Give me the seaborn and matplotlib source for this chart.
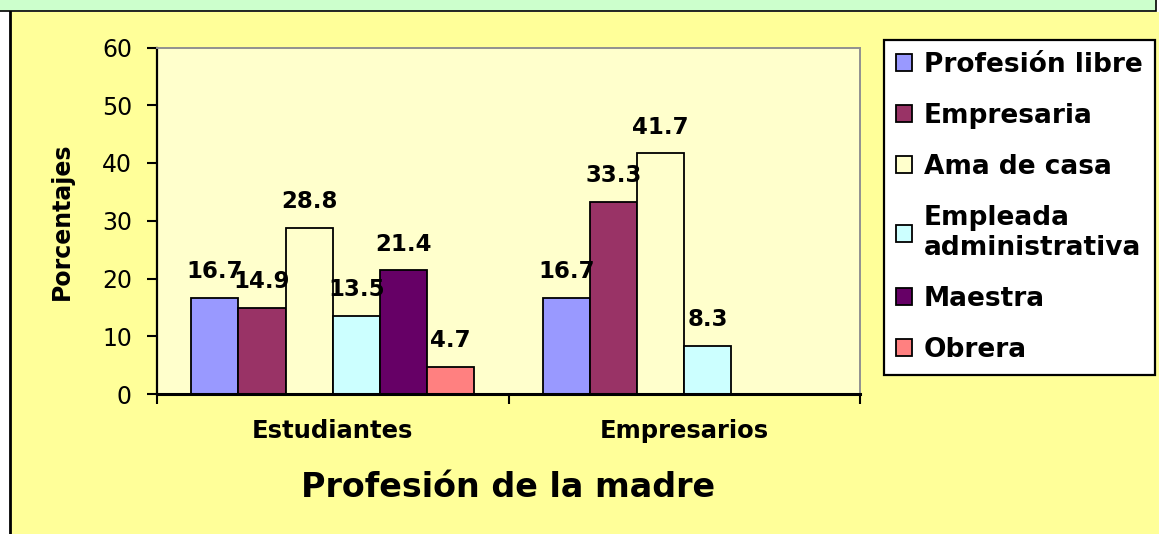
import numpy as np
import pandas as pd
import matplotlib
matplotlib.use("Agg")
import matplotlib.pyplot as plt
from matplotlib.patches import Rectangle, Patch
from matplotlib.lines import Line2D
import seaborn as sns

# ---- data ----
grupos = ["Estudiantes", "Empresarios"]
profesiones = ["Profesión libre", "Empresaria", "Ama de casa",
               "Empleada administrativa", "Maestra", "Obrera"]
legend_labels = ["Profesión libre", "Empresaria", "Ama de casa",
                 "Empleada\nadministrativa", "Maestra", "Obrera"]
estudiantes = [16.7, 14.9, 28.8, 13.5, 21.4, 4.7]
empresarios = [16.7, 33.3, 41.7, 8.3, np.nan, np.nan]
colores = ["#9999FF", "#993366", "#FFFFCC", "#CCFFFF", "#660066", "#FF8080"]
y_ticks = [0, 10, 20, 30, 40, 50, 60]

rows = []
for g, vals in zip(grupos, [estudiantes, empresarios]):
    for p, v in zip(profesiones, vals):
        if not np.isnan(v):
            rows.append({"grupo": g, "profesion": p, "pct": v})
df = pd.DataFrame(rows)

sns.set_style("ticks")
plt.rcParams["font.family"] = ["DejaVu Sans"]
plt.rcParams["text.color"] = "black"
plt.rcParams["axes.labelcolor"] = "black"
plt.rcParams["xtick.color"] = "black"
plt.rcParams["ytick.color"] = "black"

W, H = 1159, 534
fig = plt.figure(figsize=(W / 100, H / 100), dpi=100)
fig.patch.set_facecolor("white")

# outer yellow frame
fig.add_artist(Rectangle((10 / W, 0), 1, 1 - 12 / H, transform=fig.transFigure,
                         facecolor="#FFFF99", edgecolor="none", zorder=-10))
fig.add_artist(Line2D([9.5 / W, 9.5 / W], [0, 1 - 11 / H], transform=fig.transFigure,
                      color="black", lw=2.0, zorder=-9))
# green title band (cut off at top)
fig.add_artist(Rectangle((-0.01, 1 - 11 / H), 1156 / W + 0.01, 0.1,
                         transform=fig.transFigure, facecolor="#CCFFCC",
                         edgecolor="black", lw=1.2, zorder=-8))

ax = fig.add_axes([157 / W, 1 - 394 / H, (860 - 157) / W, (394 - 47.5) / H])
ax.set_facecolor("#FFFFCC")

sns.barplot(data=df, x="grupo", y="pct", hue="profesion", order=grupos,
            hue_order=profesiones, palette=colores, saturation=1,
            edgecolor="black", linewidth=1.3, width=0.806, dodge=True,
            legend=False, ax=ax)

for cont in ax.containers:
    ax.bar_label(cont, fmt="%.1f", padding=10.5, fontsize=16.5, fontweight="bold",
                 color="black")

ax.set_xlim(-0.5, 1.5)
ax.set_ylim(0, 60)
ax.set_yticks(y_ticks)
ax.set_yticklabels([str(t) for t in y_ticks], fontsize=17)
ax.tick_params(axis="y", direction="out", length=7, width=1.5, pad=11, colors="black")

ax.set_xticks([0, 1])
ax.set_xticklabels(grupos, fontsize=17.5, fontweight="bold")
ax.set_xticks([-0.5, 0.5, 1.5], minor=True)
ax.tick_params(axis="x", which="major", length=0, pad=18, colors="black")
ax.tick_params(axis="x", which="minor", direction="out", length=7, width=1.5)

ax.set_xlabel("Profesión de la madre", fontsize=24, fontweight="bold", labelpad=20)
ax.set_ylabel("Porcentajes", fontsize=17, fontweight="bold", labelpad=20)

for side in ["left", "bottom"]:
    ax.spines[side].set_color("black")
    ax.spines[side].set_linewidth(1.6)
ax.spines["bottom"].set_linewidth(2.2)
for side in ["top", "right"]:
    ax.spines[side].set_visible(True)
    ax.spines[side].set_color("#909090")
    ax.spines[side].set_linewidth(1.4)

handles = [Patch(facecolor=c, edgecolor="black", linewidth=1.3) for c in colores]
leg = fig.legend(handles, legend_labels, loc="upper left",
                 bbox_to_anchor=(884 / W, 1 - 40 / H), bbox_transform=fig.transFigure,
                 frameon=True, fancybox=False, framealpha=1, facecolor="white",
                 edgecolor="black", borderaxespad=0,
                 prop={"size": 19, "weight": "bold"},
                 handlelength=0.62, handleheight=0.62, handletextpad=0.45,
                 labelspacing=0.95, borderpad=0.45)
leg.get_frame().set_linewidth(1.6)

fig.savefig("out.png", dpi=100, facecolor=fig.get_facecolor())
